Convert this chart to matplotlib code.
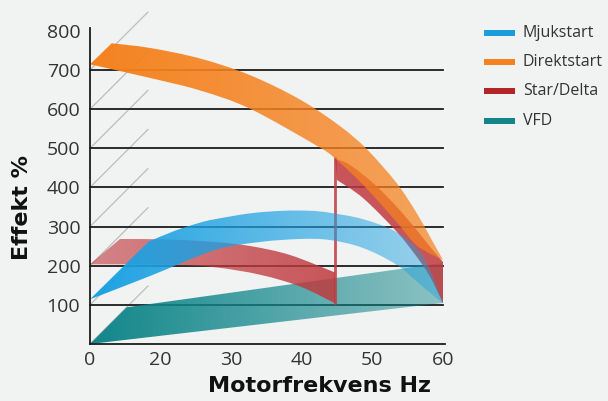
import numpy as np
import matplotlib
matplotlib.use('Agg')
import matplotlib.pyplot as plt
from matplotlib.patches import PathPatch, Rectangle
from matplotlib.path import Path
from matplotlib.colors import to_rgb

# x positions are tick slots (0..5), labelled with the Hz values below
xtick_labels = ['0', '20', '30', '40', '50', '60']
ytick_vals = [100, 200, 300, 400, 500, 600, 700, 800]
grid_vals = [100, 200, 300, 400, 500, 600, 700]
diag_vals = [0, 100, 200, 300, 400, 500, 600, 700]

series = ['Mjukstart', 'Direktstart', 'Star/Delta', 'VFD']
legend_colors = ['#1b9ddb', '#f58220', '#b22428', '#13858a']

# Direktstart ribbon (back/upper edge, front/lower edge)
dir_up_x = [0.307, 0.850, 1.558, 2.266, 2.975, 3.541, 3.919, 4.344, 4.627, 4.816, 5.0]
dir_up_y = [768.3, 756.4, 729.5, 687.0, 624.6, 556.7, 498.1, 411.0, 334.6, 274.1, 214.6]
dir_lo_x = [0, 0.850, 1.558, 2.266, 3.215, 3.470, 3.867, 4.348, 4.632, 5.0]
dir_lo_y = [714.6, 679.8, 647.9, 601.2, 506.3, 474.4, 406.9, 310.7, 251.1, 214.6]

# Star/Delta, before the switch
sd1_up_x = [0.425, 1.133, 1.771, 2.266, 2.833, 3.470]
sd1_up_y = [268.3, 267.0, 260.6, 250.4, 227.4, 182.7]
sd1_lo_x = [0, 1.133, 1.771, 2.408, 2.975, 3.470]
sd1_lo_y = [203.6, 202.5, 196.0, 177.0, 147.0, 104.0]
# Star/Delta, after the switch
sd2_up_x = [3.470, 3.683, 4.013, 4.344, 4.627, 4.816, 5.0]
sd2_up_y = [474.4, 457.3, 410.6, 350.8, 291.3, 248.6, 209.5]
sd2_lo_x = [3.499, 3.871, 4.344, 4.627, 4.816, 5.0]
sd2_lo_y = [419.0, 372.3, 286.9, 223.0, 171.9, 104.0]
sd_jump_x = 3.47
sd_jump_y = [104.0, 474.4]

# Mjukstart
mj_up_x = [0.826, 1.204, 1.558, 1.771, 2.266, 2.734, 3.116, 3.399, 3.867, 4.348, 4.717, 5.0]
mj_up_y = [261.1, 289.5, 310.0, 318.9, 333.8, 340.4, 340.4, 335.3, 318.9, 285.2, 224.3, 104.0]
mj_lo_x = [0, 0.850, 1.771, 2.408, 2.975, 3.399, 3.867, 4.348, 4.717, 5.0]
mj_lo_y = [114.2, 173.7, 240.2, 260.6, 268.3, 265.7, 245.3, 201.8, 145.6, 104.0]

# VFD
vfd_up_x = [0.520, 5.0]
vfd_up_y = [93.8, 207.0]
vfd_lo_x = [0, 5.0]
vfd_lo_y = [0, 104.8]

bg = '#f1f2f2'
fig = plt.figure(figsize=(6.08, 4.01), dpi=100, facecolor=bg)
ax = fig.add_axes([90/608, 1-344/401, 353/608, (344-30.9)/401])
ax.set_facecolor('none')
for s in ax.spines.values():
    s.set_visible(False)


def curve(xs, ys):
    # smooth bezier segments through the read points
    p = np.column_stack([xs, ys]).astype(float)
    n = len(p)
    verts = []
    for i in range(n - 1):
        p0 = p[max(i - 1, 0)]; p1 = p[i]; p2 = p[i + 1]; p3 = p[min(i + 2, n - 1)]
        verts += [p1 + (p2 - p0) / 6, p2 - (p3 - p1) / 6, p2]
    return verts


def ribbon(upx, upy, lox, loy, color, a0, a1, z):
    verts = [(upx[0], upy[0])]
    codes = [Path.MOVETO]
    cu = curve(upx, upy)
    verts += cu; codes += [Path.CURVE4] * len(cu)
    verts.append((lox[-1], loy[-1])); codes.append(Path.LINETO)
    cl = curve(lox[::-1], loy[::-1])
    verts += cl; codes += [Path.CURVE4] * len(cl)
    verts.append((upx[0], upy[0])); codes.append(Path.CLOSEPOLY)
    patch = PathPatch(Path(verts, codes), facecolor='none', edgecolor='none')
    ax.add_patch(patch)
    xs = list(upx) + list(lox); ys = list(upy) + list(loy)
    grad = np.zeros((2, 256, 4))
    grad[..., :3] = to_rgb(color)
    grad[..., 3] = np.linspace(a0, a1, 256)
    im = ax.imshow(grad, extent=[min(xs), max(xs), min(ys) - 5, max(ys) + 5], origin='lower',
                   aspect='auto', interpolation='bilinear', zorder=z)
    im.set_clip_path(patch)


# back wall diagonals and grid
for v in diag_vals:
    ax.plot([0, 0.82], [v, v + 148], color='#bdbdbd', lw=0.9, zorder=1, clip_on=False)
for v in grid_vals:
    ax.plot([0, 5], [v, v], color='#1c1c1c', lw=1.3, zorder=2, clip_on=False)

ribbon(vfd_up_x, vfd_up_y, vfd_lo_x, vfd_lo_y, '#10868a', 1.0, 0.45, 3)
ribbon(sd1_up_x, sd1_up_y, sd1_lo_x, sd1_lo_y, '#c0393e', 0.6, 0.85, 4)
ribbon(sd2_up_x, sd2_up_y, sd2_lo_x, sd2_lo_y, '#c0393e', 0.85, 0.85, 4)
ax.plot([sd_jump_x, sd_jump_x], sd_jump_y, color='#c0393e', alpha=0.85, lw=2, zorder=4)
ribbon(mj_up_x, mj_up_y, mj_lo_x, mj_lo_y, '#1ba1e2', 1.0, 0.4, 5)
ribbon(dir_up_x, dir_up_y, dir_lo_x, dir_lo_y, '#f5821f', 1.0, 0.7, 6)

# axes lines
ax.plot([0, 0], [0, 807], color='#1c1c1c', lw=1.3, zorder=7, clip_on=False)
ax.plot([0, 5.03], [0, 0], color='#1c1c1c', lw=1.3, zorder=7, clip_on=False)

ax.set_xlim(0, 5)
ax.set_ylim(0, 800)
ax.set_xticks(range(len(xtick_labels)))
ax.set_xticklabels(xtick_labels)
ax.set_yticks(ytick_vals)
ax.set_yticklabels([str(v) for v in ytick_vals])
ax.tick_params(length=0, labelsize=14, labelcolor='#333333')
ax.tick_params(axis='y', pad=7)
ax.tick_params(axis='x', pad=5)
for lab in ax.get_xticklabels() + ax.get_yticklabels():
    lab.set_family('Open Sans')

fig.text(22/608, 1-208/401, 'Effekt %', rotation=90, ha='center', va='center',
         fontsize=16, fontweight='bold', color='#111111')
fig.text(320/608, 1-386/401, 'Motorfrekvens Hz', ha='center', va='center',
         fontsize=16, fontweight='bold', color='#111111')

# legend
leg_y = [33, 62, 91, 121]
for name, col, yy in zip(series, legend_colors, leg_y):
    fig.add_artist(Rectangle((484/608, 1-(yy+3)/401), 31/608, 6/401,
                             transform=fig.transFigure, facecolor=col, edgecolor='none'))
    fig.text(523/608, 1-yy/401, name, ha='left', va='center', fontsize=11.5,
             color='#333333', family='Open Sans')

fig.savefig('out.png', dpi=100, facecolor=bg)
